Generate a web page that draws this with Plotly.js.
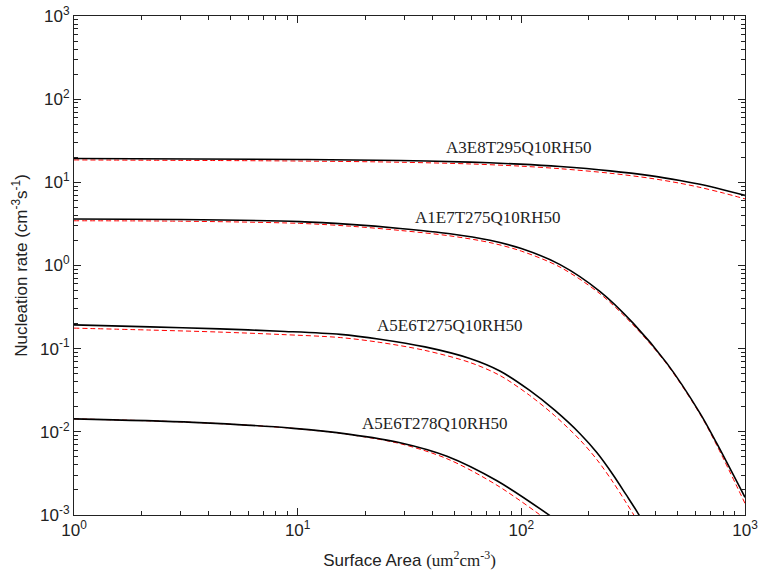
<!DOCTYPE html>
<html>
<head>
<meta charset="utf-8">
<script src="https://cdn.plot.ly/plotly-3.0.1.min.js"></script>
<style>html,body{margin:0;padding:0;background:#fff;}#chart{width:761px;height:577px;}</style>
</head>
<body>
<div id="chart"></div>
<script>
// Surface area (um^2 cm^-3) and nucleation rates (cm^-3 s^-1)
const caseNames = ["A3E8T295Q10RH50", "A1E7T275Q10RH50", "A5E6T275Q10RH50", "A5E6T278Q10RH50"];

const x1 = [1, 10.24, 28.7, 58.9, 98.6, 149, 249, 376, 512, 629, 797, 1000];
const black1 = [19.38, 18.85, 18.28, 17.5, 16.56, 15.49, 13.75, 12.05, 10.54, 9.46, 8.15, 6.96];
const red1 = [18.59, 18.03, 17.44, 16.64, 15.67, 14.58, 12.87, 11.21, 9.75, 8.70, 7.46, 6.33];

const x2 = [1, 3.0, 10.2, 17.1, 28.7, 48.0, 72.4, 100, 149, 225, 316, 447, 629, 747, 1000];
const black2 = [3.63, 3.58, 3.37, 3.12, 2.79, 2.41, 2.01, 1.60, 1.025, 0.486, 0.203, 0.067, 0.0168, 0.00731, 0.00163];
const red2 = [3.45, 3.41, 3.21, 2.97, 2.64, 2.27, 1.885, 1.49, 0.956, 0.456, 0.193, 0.0652, 0.01635, 0.00692, 0.00138];

const x3 = [1, 2.19, 4.49, 8.33, 15.5, 23.3, 37.1, 58.9, 80.2, 109, 141, 183, 218, 257, 293, 333, 376];
const black3 = [0.193, 0.183, 0.173, 0.162, 0.1486, 0.130, 0.105, 0.0762, 0.0539, 0.0315, 0.0182, 0.0095, 0.0056, 0.00305, 0.00178, 0.00104, 0.00058];
const red3 = [0.1766, 0.1674, 0.1583, 0.1482, 0.136, 0.119, 0.0953, 0.0682, 0.0476, 0.0274, 0.01563, 0.00798, 0.00461, 0.00248, 0.00143, 0.00082, 0.00045];

const x4 = [1, 3.41, 9.56, 17.1, 28.7, 46.5, 77.8, 135.6, 156.7];
const black4 = [0.01432, 0.0130, 0.01102, 0.00933, 0.00741, 0.00509, 0.00258, 0.000964, 0.000722];
const red4 = [0.01432, 0.0130, 0.01102, 0.00925, 0.00721, 0.00475, 0.00228, 0.000805, 0.000595];

const xTickVals = [1, 10, 100, 1000];
const xTickText = ["10<sup>0</sup>", "10<sup>1</sup>", "10<sup>2</sup>", "10<sup>3</sup>"];
const yTickVals = [0.001, 0.01, 0.1, 1, 10, 100, 1000];
const yTickText = ["10<sup>-3</sup>", "10<sup>-2</sup>", "10<sup>-1</sup>", "10<sup>0</sup>", "10<sup>1</sup>", "10<sup>2</sup>", "10<sup>3</sup>"];

const xs = [x1, x2, x3, x4];
const blacks = [black1, black2, black3, black4];
const reds = [red1, red2, red3, red4];

const traces = [];
for (let i = 0; i < 4; i++) {
  traces.push({x: xs[i], y: reds[i], type: 'scatter', mode: 'lines', name: caseNames[i] + ' model',
    line: {color: '#ff0000', width: 1, dash: '5px,3px', shape: 'spline', smoothing: 0.9}, hoverinfo: 'skip'});
  traces.push({x: xs[i], y: blacks[i], type: 'scatter', mode: 'lines', name: caseNames[i],
    line: {color: '#000000', width: 1.6, shape: 'spline', smoothing: 0.9}, hoverinfo: 'skip'});
}

const labelPos = [[97.6, 25.9], [70.9, 3.80], [47.9, 0.188], [40.7, 0.0125]];
const annotations = caseNames.map((t, i) => ({
  x: Math.log10(labelPos[i][0]), y: Math.log10(labelPos[i][1]), xref: 'x', yref: 'y',
  text: t, showarrow: false, xanchor: 'center', yanchor: 'middle',
  font: {family: 'Liberation Serif, Times New Roman, serif', size: 17, color: '#222'}
}));

const axisCommon = {
  type: 'log', showgrid: false, zeroline: false, showline: true, linecolor: '#222', linewidth: 1,
  mirror: 'ticks', ticks: 'inside', ticklen: 7, tickcolor: '#222', tickwidth: 1,
  tickmode: 'array',
  minor: {ticks: 'inside', ticklen: 4, tickcolor: '#222', dtick: 'D1', showgrid: false},
  tickfont: {family: 'Liberation Sans, Arial, sans-serif', size: 17, color: '#222'}
};

const layout = {
  width: 761, height: 577,
  margin: {l: 74, r: 16, t: 16, b: 62},
  paper_bgcolor: '#fff', plot_bgcolor: '#fff',
  showlegend: false,
  xaxis: Object.assign({}, axisCommon, {
    range: [0, 3], tickvals: xTickVals, ticktext: xTickText,
    title: {text: 'Surface Area <span style="font-family:Liberation Serif, Times New Roman, serif">(um<sup>2</sup>cm<sup>-3</sup>)</span>',
      font: {family: 'Liberation Sans, Arial, sans-serif', size: 17, color: '#222'}, standoff: 14}
  }),
  yaxis: Object.assign({}, axisCommon, {
    range: [-3, 3], tickvals: yTickVals, ticktext: yTickText,
    title: {text: 'Nucleation rate (cm<sup>-3</sup>s<sup>-1</sup>)',
      font: {family: 'Liberation Sans, Arial, sans-serif', size: 17, color: '#222'}, standoff: 8}
  }),
  annotations: annotations
};

Plotly.newPlot('chart', traces, layout, {displayModeBar: false, staticPlot: true});
</script>
</body>
</html>
